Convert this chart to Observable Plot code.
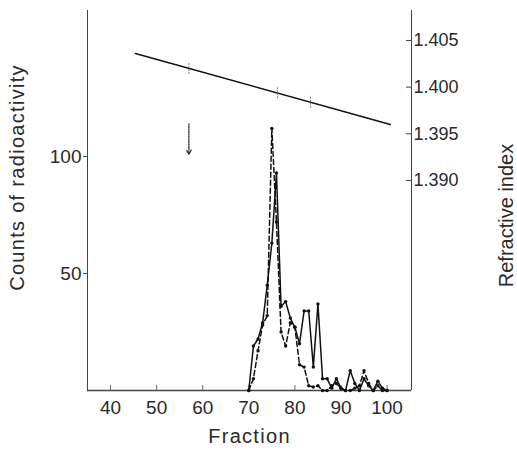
<!DOCTYPE html>
<html><head><meta charset="utf-8">
<script src="https://cdn.jsdelivr.net/npm/d3@7"></script>
<script src="https://cdn.jsdelivr.net/npm/@observablehq/plot@0.6"></script>
<style>
html,body{margin:0;padding:0;background:#fff;}
#chart svg{display:block;}
#chart .wide, #chart .wide text{letter-spacing:1.3px;}
</style></head><body><div id="chart"></div>
<script>
// Counts of radioactivity per fraction
const fractions    = [70,71,72,73,74,75,76,77,78,79,80,81,82,83,84,85,86,87,88,89,90,91,92,93,94,95,96,97,98,99,100];
const solidCounts  = [0,19,22,29,45,63,93,36,38,31,27,20,34,34,10,37,5,5,1,5,1,0,8.5,3,0,5,2,0,4,1,0];
const dashedCounts = [0,5,17,28,32,112,72,25,19,29,27,11,10,2,1.5,2,0,0,2,3,1,0,0,1,2,8.5,3,0,2,0,0];

// Refractive index gradient (straight line) and measured points
const riLineFraction = [45.4, 100.7];
const riLineValues   = [1.4036, 1.3960];
const riMarkFraction = [57, 76.2, 83.4];
const riMarkValues   = [1.4020, 1.3994, 1.3984];
const riMarkHalf     = 0.00065;

// Arrow (marker position)
const arrowFraction = [57];
const arrowTop      = [114];
const arrowBottom   = [101];

// Axes
const xTicks     = [40,50,60,70,80,90,100];
const countTicks = [50,100];
const riTicks    = [1.390,1.395,1.400,1.405];
const xDomain    = [35, 105.3];
const countDomain= [0, 162.4];
const riDomain   = [1.3675, 1.40821];

const riToCount = d3.scaleLinear().domain(riDomain).range(countDomain);

const solid  = fractions.map((f,i)=>({f, c: solidCounts[i]}));
const dashed = fractions.map((f,i)=>({f, c: dashedCounts[i]}));
const riLine = riLineFraction.map((f,i)=>({f, y: riToCount(riLineValues[i])}));
const riMarks = riMarkFraction.map((f,i)=>({f, y1: riToCount(riMarkValues[i]-riMarkHalf), y2: riToCount(riMarkValues[i]+riMarkHalf)}));
const arrows = arrowFraction.map((f,i)=>({f, y1: arrowTop[i], y2: arrowBottom[i]}));

const font = "'Liberation Sans', Arial, sans-serif";
const axisColor = "#444";
const textColor = "#2a2a2a";

const chart = Plot.plot({
  width: 517, height: 453,
  marginLeft: 87, marginRight: 106, marginTop: 10, marginBottom: 63,
  style: {fontFamily: font, color: textColor, background: "white", overflow: "visible"},
  x: {domain: xDomain},
  y: {domain: countDomain},
  marks: [
    // frame lines (left, right, bottom)
    Plot.ruleX([xDomain[0], xDomain[1]], {stroke: axisColor, strokeWidth: 1}),
    Plot.ruleY([countDomain[0]], {stroke: axisColor, strokeWidth: 1.3}),
    Plot.axisX(xTicks, {anchor: "bottom", tickSize: -5, tickPadding: 15, label: null, fontSize: 19, stroke: "#666"}),
    Plot.axisY(countTicks, {anchor: "left", tickSize: 4, tickPadding: 2, label: null, fontSize: 19, stroke: axisColor}),
    Plot.axisY(riTicks.map(d => riToCount(d)), {anchor: "right", tickSize: -6, tickPadding: 8, label: null, fontSize: 18, stroke: axisColor,
      tickFormat: d => d3.format(".3f")(riToCount.invert(d))}),
    Plot.text(["Counts of radioactivity"], {frameAnchor: "left", textAnchor: "middle", rotate: -90, dx: -70, dy: -23, fontSize: 20, fill: textColor, className: "wide"}),
    Plot.text(["Refractive index"], {frameAnchor: "right", textAnchor: "middle", rotate: -90, dx: 95, dy: 15, fontSize: 20, fill: textColor}),
    Plot.text(["Fraction"], {frameAnchor: "bottom", dy: 52, fontSize: 20, fill: textColor, className: "wide"}),
    Plot.line(riLine, {x: "f", y: "y", stroke: "#111", strokeWidth: 1.5}),
    Plot.ruleX(riMarks, {x: "f", y1: "y1", y2: "y2", stroke: "#777", strokeWidth: 1, strokeDasharray: "2,1"}),
    Plot.arrow(arrows, {x: "f", y1: "y1", x2: "f", y2: "y2", stroke: "#222", strokeWidth: 1.2, strokeDasharray: "1.5,1", headLength: 6}),
    Plot.line(dashed, {x: "f", y: "c", stroke: "#111", strokeWidth: 1.5, strokeDasharray: "5,3"}),
    Plot.dot(dashed, {x: "f", y: "c", r: 1.7, fill: "#111"}),
    Plot.line(solid, {x: "f", y: "c", stroke: "#111", strokeWidth: 1.5}),
    Plot.dot(solid, {x: "f", y: "c", r: 1.7, fill: "#111"})
  ]
});
document.getElementById("chart").append(chart);
</script>
</body></html>
